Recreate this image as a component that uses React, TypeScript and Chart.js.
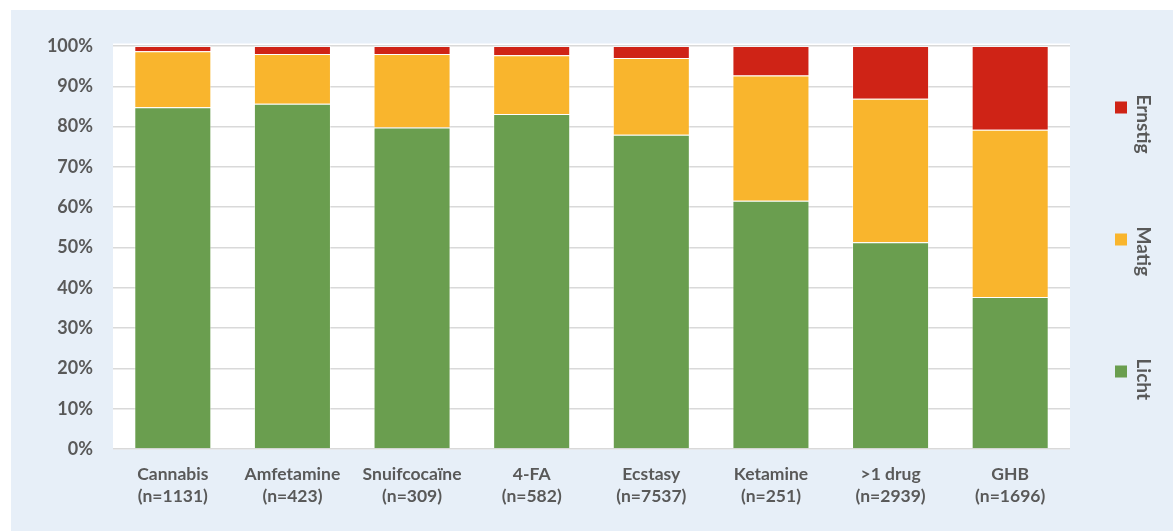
import React, { useEffect, useRef } from "react";
import { Chart, registerables } from "chart.js";

Chart.register(...registerables);

const categories = ["Cannabis", "Amfetamine", "Snuifcocaïne", "4-FA", "Ecstasy", "Ketamine", ">1 drug", "GHB"];
const sampleSizes = ["1131", "423", "309", "582", "7537", "251", "2939", "1696"];
const licht = [84.8, 85.7, 79.8, 83.1, 78.0, 61.6, 51.3, 37.7];
const matig = [13.9, 12.3, 18.2, 14.6, 19.0, 31.1, 35.6, 41.5];
const ernstig = [1.3, 2.0, 2.0, 2.3, 3.0, 7.3, 13.1, 20.8];
const yTicks = [0, 10, 20, 30, 40, 50, 60, 70, 80, 90, 100];

const TEXT = "#595959";
const FONT = "Lato";
const BG = "#E7EFF8";

export default function App() {
  const ref = useRef<HTMLCanvasElement | null>(null);

  useEffect(() => {
    if (!ref.current) return;
    const labels = categories.map((c, i) => [c, `(n=${sampleSizes[i]})`]);

    const bgPlugin = {
      id: "bgPlugin",
      beforeDraw(chart: any) {
        const { ctx, chartArea, width, height } = chart;
        ctx.save();
        ctx.fillStyle = "#ffffff";
        ctx.fillRect(0, 0, width, height);
        ctx.fillStyle = BG;
        ctx.fillRect(11, 10, width - 11, height - 10);
        ctx.fillStyle = "#ffffff";
        ctx.fillRect(chartArea.left, chartArea.top - 2.5, chartArea.right - chartArea.left, chartArea.bottom - chartArea.top + 3);
        ctx.restore();
      },
    };

    const legendPlugin = {
      id: "rotLegend",
      afterDraw(chart: any) {
        const { ctx, chartArea } = chart;
        const ds = chart.data.datasets.slice().reverse();
        const mid = (chartArea.top + chartArea.bottom) / 2;
        const spacing = 132;
        const x = chartArea.right + 45;
        ctx.save();
        ds.forEach((d: any, i: number) => {
          const yStart = mid - 21 + (i - 1) * spacing;
          ctx.fillStyle = d.backgroundColor;
          ctx.fillRect(x, yStart + 7, 12, 12);
          ctx.save();
          ctx.translate(x + 22, yStart);
          ctx.rotate(Math.PI / 2);
          ctx.font = `bold 19px ${FONT}`;
          ctx.fillStyle = TEXT;
          ctx.textBaseline = "alphabetic";
          ctx.textAlign = "left";
          ctx.fillText(d.label, 0, 0);
          ctx.restore();
        });
        ctx.restore();
      },
    };

    const chart = new Chart(ref.current, {
      type: "bar",
      data: {
        labels,
        datasets: [
          { label: "Licht", data: licht, backgroundColor: "#6A9E4F", borderColor: "rgba(255,255,255,0.45)", borderWidth: 1 },
          { label: "Matig", data: matig, backgroundColor: "#F9B52D", borderColor: "rgba(255,255,255,0.45)", borderWidth: 1 },
          { label: "Ernstig", data: ernstig, backgroundColor: "#CF2316", borderColor: "rgba(255,255,255,0.45)", borderWidth: 1 },
        ],
      },
      options: {
        responsive: false,
        animation: false,
        layout: { padding: { left: 0, right: 103, top: 46, bottom: 22 } },
        datasets: { bar: { barPercentage: 0.644, categoryPercentage: 1 } },
        plugins: { legend: { display: false }, tooltip: { enabled: false } },
        scales: {
          x: {
            stacked: true,
            grid: { display: false, drawTicks: false },
            border: { display: false },
            ticks: {
              color: TEXT,
              font: { family: FONT, size: 17.5, weight: "bold", lineHeight: 1.22 },
              padding: 15,
              maxRotation: 0,
              autoSkip: false,
            },
            afterFit(scale: any) {
              scale.height = 60;
            },
          },
          y: {
            stacked: true,
            min: 0,
            max: 100,
            afterBuildTicks(scale: any) {
              scale.ticks = yTicks.map((v) => ({ value: v }));
            },
            grid: { color: "#D9D9D9", lineWidth: 1.5, drawTicks: false },
            border: { display: false },
            ticks: {
              color: TEXT,
              font: { family: FONT, size: 18, weight: "bold" },
              padding: 20,
              callback: (v: any) => `${v}%`,
            },
            afterFit(scale: any) {
              scale.width = 113;
            },
          },
        },
      },
      plugins: [bgPlugin, legendPlugin],
    });
    return () => chart.destroy();
  }, []);

  return (
    <div style={{ position: "fixed", left: 0, top: 0, width: 1173, height: 531 }}>
      <canvas ref={ref} width={1173} height={531} style={{ width: 1173, height: 531, display: "block" }} />
    </div>
  );
}
